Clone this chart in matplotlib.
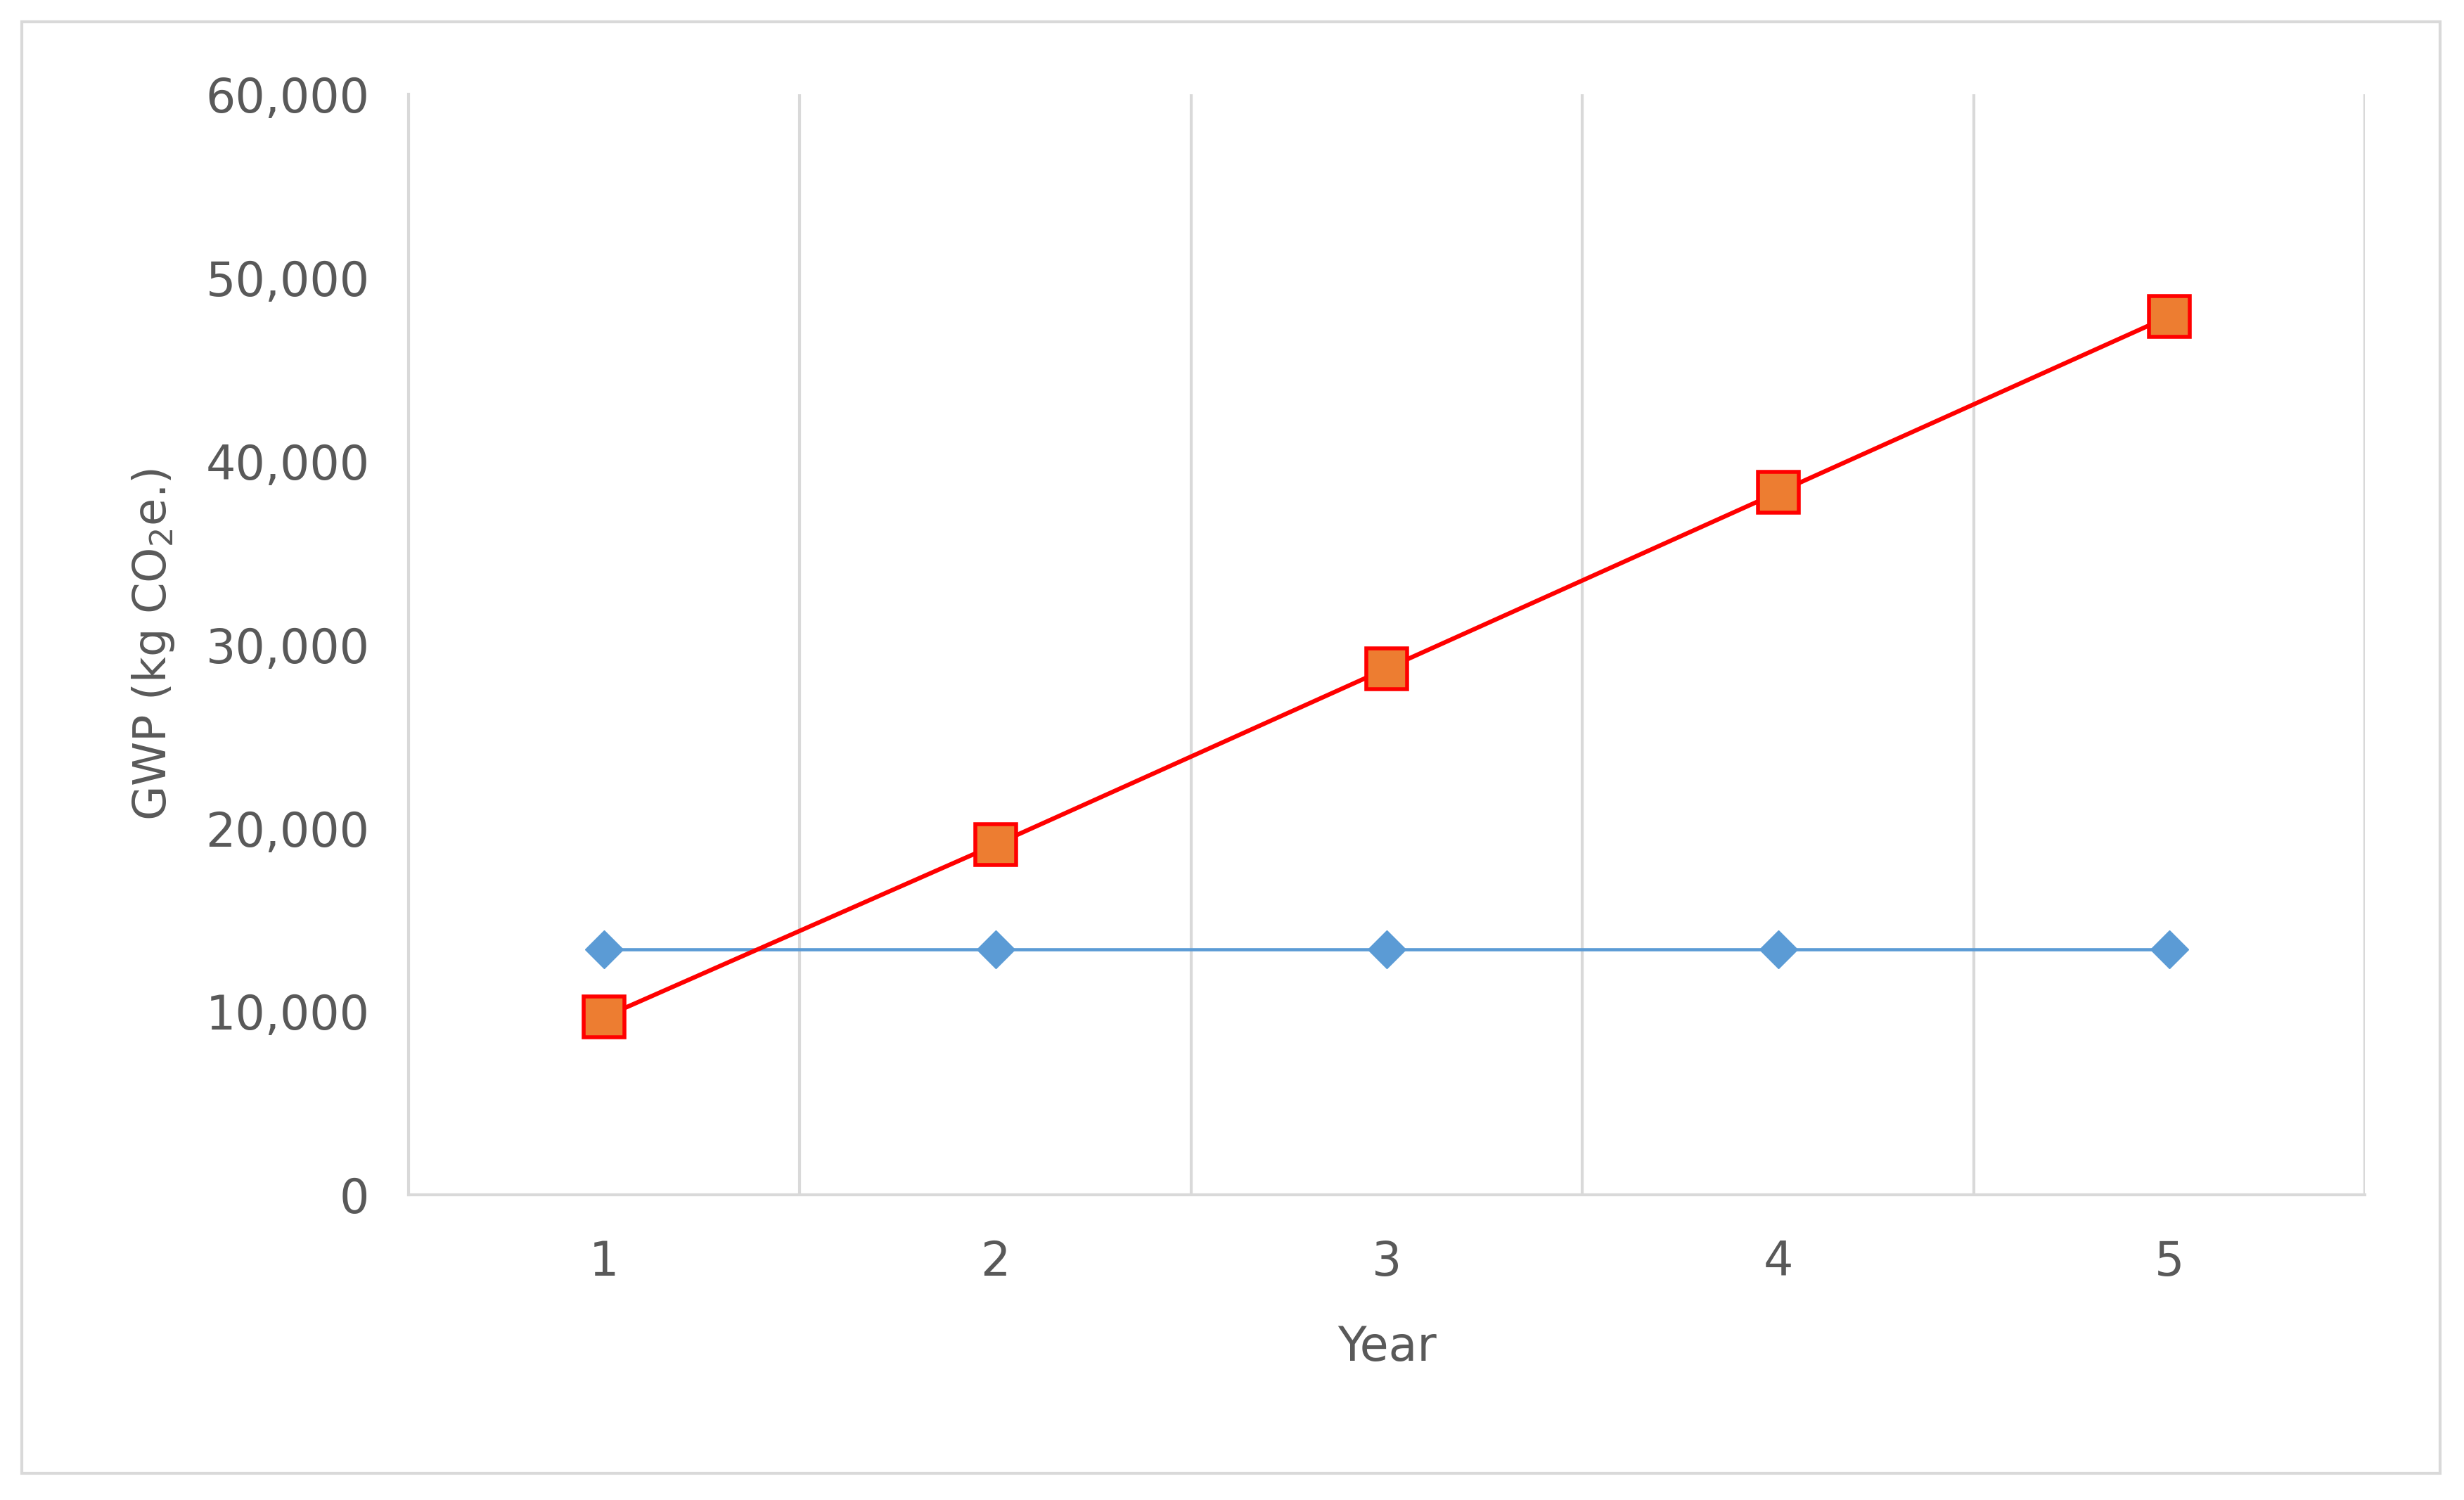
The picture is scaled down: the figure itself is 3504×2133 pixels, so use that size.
import matplotlib
matplotlib.use("Agg")
import matplotlib.pyplot as plt
from matplotlib.patches import Rectangle
from matplotlib.ticker import FuncFormatter

years = [1, 2, 3, 4, 5]
baseline = [13400, 13400, 13400, 13400, 13400]
cumulative = [9700, 19100, 28700, 38300, 47900]

fig = plt.figure(figsize=(35.04, 21.33), dpi=100)
fig.patches.append(Rectangle((14/1568, 1-937/954), (1553-14)/1568, (937-14)/954,
                             transform=fig.transFigure, fill=False, ec="#d9d9d9", lw=3))
ax = fig.add_axes([260/1568, 1-760/954, (1505-260)/1568, 700/954])
grey = "#595959"
ax.plot(years, baseline, color="#5b9bd5", lw=3.3, marker="D", markersize=27,
        markerfacecolor="#5b9bd5", markeredgecolor="#5b9bd5", zorder=3)
ax.plot(years, cumulative, color="#ff0000", lw=4.5, marker="s", markersize=42,
        markerfacecolor="#ed7d31", markeredgecolor="#ff0000", markeredgewidth=4, zorder=4)
ax.set_xlim(0.5, 5.5)
ax.set_ylim(0, 60000)
ax.set_yticks(range(0, 60001, 10000))
ax.yaxis.set_major_formatter(FuncFormatter(lambda v, p: f"{int(v):,}"))
ax.set_xticks(years)
for b in [1.5, 2.5, 3.5, 4.5, 5.5]:
    ax.axvline(b, color="#d9d9d9", lw=3, zorder=1)
for s in ["top", "right"]:
    ax.spines[s].set_visible(False)
ax.spines["left"].set_color("#d9d9d9"); ax.spines["left"].set_linewidth(3)
ax.spines["bottom"].set_color("#d9d9d9"); ax.spines["bottom"].set_linewidth(3)
ax.tick_params(length=0, labelsize=48, labelcolor=grey)
ax.tick_params(axis="y", pad=40)
ax.tick_params(axis="x", pad=45)
ax.set_xlabel("Year", fontsize=48, color=grey, labelpad=40)
ax.set_ylabel("GWP (kg CO$_2$e.)", fontsize=46, color=grey, labelpad=30)
fig.savefig("out.png", dpi=100)
